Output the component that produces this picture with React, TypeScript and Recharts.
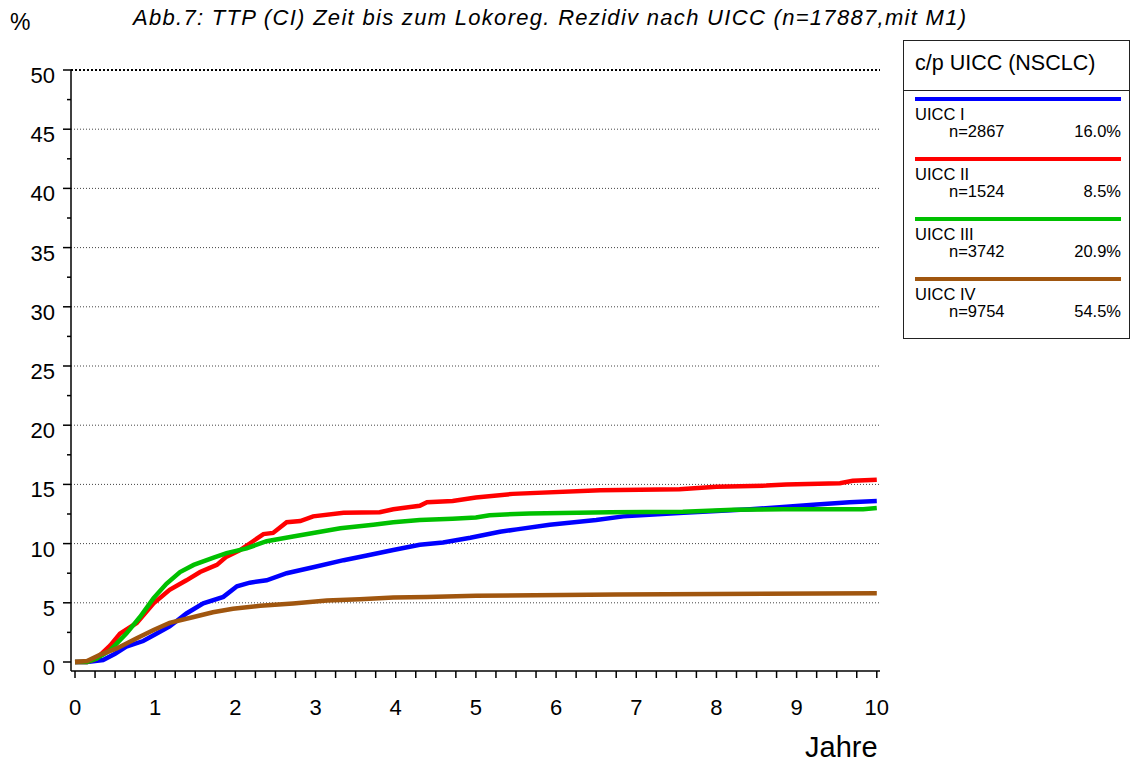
import React from "react"
import { LineChart, Line, XAxis, YAxis, ReferenceLine } from "recharts"

// time (years) / cumulative incidence (%)
const t1 = [0, 0.15, 0.35, 0.5, 0.64, 0.85, 1.02, 1.18, 1.39, 1.6, 1.85, 2.02, 2.18, 2.39, 2.64, 2.97, 3.35, 3.64, 3.97, 4.3, 4.59, 4.93, 5.3, 5.51, 5.92, 6.5, 6.84, 7.59, 8.42, 8.83, 9.25, 9.66, 10]
const v1 = [0, 0, 0.17, 0.7, 1.3, 1.77, 2.4, 3.0, 4.1, 4.95, 5.5, 6.4, 6.7, 6.9, 7.5, 8.0, 8.6, 9.0, 9.46, 9.9, 10.1, 10.5, 11.0, 11.2, 11.6, 12.0, 12.3, 12.6, 12.9, 13.1, 13.3, 13.5, 13.6]

const t2 = [0, 0.15, 0.27, 0.44, 0.56, 0.77, 0.98, 1.18, 1.39, 1.56, 1.77, 1.89, 2.06, 2.22, 2.35, 2.47, 2.64, 2.81, 2.97, 3.35, 3.8, 3.97, 4.3, 4.39, 4.71, 5.0, 5.46, 6.55, 7.54, 8.0, 8.62, 8.87, 9.54, 9.7, 10]
const v2 = [0, 0, 0.3, 1.4, 2.4, 3.3, 4.95, 6.1, 6.9, 7.6, 8.2, 8.9, 9.46, 10.2, 10.8, 10.9, 11.8, 11.9, 12.3, 12.6, 12.65, 12.9, 13.2, 13.5, 13.6, 13.9, 14.2, 14.5, 14.6, 14.8, 14.9, 15.0, 15.1, 15.3, 15.4]

const t3 = [0, 0.15, 0.27, 0.44, 0.64, 0.81, 0.98, 1.14, 1.31, 1.48, 1.72, 1.89, 2.14, 2.39, 2.72, 2.97, 3.31, 3.72, 3.97, 4.3, 4.71, 5.0, 5.17, 5.67, 6.67, 7.58, 8.21, 8.83, 9.83, 10]
const v3 = [0, 0, 0.3, 1.0, 2.4, 3.8, 5.4, 6.6, 7.6, 8.2, 8.8, 9.2, 9.6, 10.2, 10.6, 10.9, 11.3, 11.6, 11.8, 12.0, 12.1, 12.2, 12.4, 12.55, 12.65, 12.7, 12.85, 12.9, 12.9, 13.0]

const t4 = [0, 0.15, 0.31, 0.52, 0.77, 0.98, 1.18, 1.48, 1.72, 1.97, 2.31, 2.72, 3.14, 3.55, 3.97, 4.39, 5.0, 6.75, 10]
const v4 = [0, 0.08, 0.6, 1.15, 2.0, 2.7, 3.3, 3.8, 4.2, 4.5, 4.75, 4.95, 5.2, 5.3, 5.45, 5.5, 5.6, 5.7, 5.8]

const groupNames = ["UICC I", "UICC II", "UICC III", "UICC IV"]
const groupN = [2867, 1524, 3742, 9754]
const groupPct = ["16.0%", "8.5%", "20.9%", "54.5%"]
const groupColors = ["#0000FF", "#FF0000", "#00C000", "#A0560F"]

const yTicks = [0, 2.5, 5, 7.5, 10, 12.5, 15, 17.5, 20, 22.5, 25, 27.5, 30, 32.5, 35, 37.5, 40, 42.5, 45, 47.5, 50]
const xTicks = Array.from({ length: 41 }, (_, i) => i / 4)
const gridValues = [5, 10, 15, 20, 25, 30, 35, 40, 45, 50]

const toRows = (t: number[], v: number[]) => t.map((x, i) => ({ t: x, v: v[i] }))
const series = [toRows(t1, v1), toRows(t2, v2), toRows(t3, v3), toRows(t4, v4)]

const FONT = "'Liberation Sans', Arial, sans-serif"

function YTick(props: any) {
    const { x, y, payload } = props
    const major = payload.value % 5 === 0
    return (
        <g>
            <line x1={x - (major ? 8 : 4)} x2={x} y1={y} y2={y} stroke="#000" strokeWidth={1.5} />
            {major && (
                <text x={x - 16} y={y + 13} textAnchor="end" fontSize={22} fontFamily={FONT} fill="#000">
                    {payload.value}
                </text>
            )}
        </g>
    )
}

function XTick(props: any) {
    const { x, y, payload } = props
    const major = Number.isInteger(payload.value)
    return (
        <g>
            <line x1={x} x2={x} y1={y} y2={y + 7} stroke="#000" strokeWidth={1.5} />
            {major && (
                <text x={x} y={y + 44} textAnchor="middle" fontSize={22} fontFamily={FONT} fill="#000">
                    {payload.value}
                </text>
            )}
        </g>
    )
}

export default function App() {
    return (
        <div style={{ position: "absolute", left: 0, top: 0, width: 1131, height: 767, background: "#fff", fontFamily: FONT, color: "#000" }}>
            <LineChart width={1131} height={767} margin={{ top: 70, right: 251, bottom: 56, left: 11 }}>
                <XAxis
                    type="number"
                    dataKey="t"
                    domain={[-0.05, 10.04]}
                    ticks={xTicks}
                    interval={0}
                    allowDataOverflow
                    height={40}
                    tickSize={0}
                    tickMargin={0}
                    tickLine={false}
                    axisLine={{ stroke: "#000", strokeWidth: 1.5 }}
                    tick={<XTick />}
                />
                <YAxis
                    type="number"
                    dataKey="v"
                    domain={[-0.76, 50]}
                    ticks={yTicks}
                    interval={0}
                    allowDataOverflow
                    width={60}
                    tickSize={0}
                    tickMargin={0}
                    tickLine={false}
                    axisLine={{ stroke: "#000", strokeWidth: 1.5 }}
                    tick={<YTick />}
                />
                {gridValues.map((g) => (
                    <ReferenceLine key={g} y={g} stroke={g === 50 ? "#000" : "#444"} strokeWidth={g === 50 ? 2 : 1} strokeDasharray={g === 50 ? "2 2" : "1 2"} />
                ))}
                {series.map((d, i) => (
                    <Line
                        key={groupNames[i]}
                        data={d}
                        dataKey="v"
                        type="linear"
                        stroke={groupColors[i]}
                        strokeWidth={4.5}
                        dot={false}
                        isAnimationActive={false}
                    />
                ))}
            </LineChart>

            <div style={{ position: "absolute", left: 10, top: 9, fontSize: 23 }}>%</div>
            <div style={{ position: "absolute", left: 133, top: 5, fontSize: 22, letterSpacing: 1.3, fontStyle: "italic", whiteSpace: "nowrap" }}>
                Abb.7: TTP (CI) Zeit bis zum Lokoreg. Rezidiv nach UICC (n=17887,mit M1)
            </div>
            <div style={{ position: "absolute", left: 805, top: 731, fontSize: 29 }}>Jahre</div>

            <div style={{ position: "absolute", left: 903, top: 40, width: 225, height: 297, border: "1.5px solid #222" }}>
                <div style={{ height: 50, borderBottom: "1.5px solid #222", boxSizing: "border-box", paddingLeft: 11, paddingTop: 10, fontSize: 21.5, whiteSpace: "nowrap" }}>
                    c/p UICC (NSCLC)
                </div>
                {groupNames.map((name, i) => (
                    <div key={name} style={{ position: "absolute", left: 0, top: 56 + i * 60, width: 225, height: 60 }}>
                        <div style={{ position: "absolute", left: 11, top: 0, width: 206, height: 4, background: groupColors[i] }} />
                        <div style={{ position: "absolute", left: 11, top: 9, fontSize: 16.5, lineHeight: "16px" }}>{name}</div>
                        <div style={{ position: "absolute", left: 45, top: 26, fontSize: 16.5, lineHeight: "16px" }}>n={groupN[i]}</div>
                        <div style={{ position: "absolute", right: 8, top: 26, fontSize: 16.5, lineHeight: "16px" }}>{groupPct[i]}</div>
                    </div>
                ))}
            </div>
        </div>
    )
}
